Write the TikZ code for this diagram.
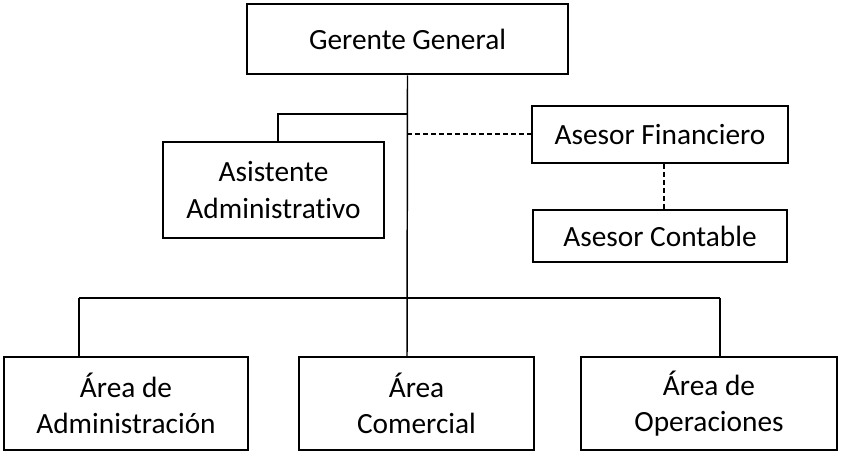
\documentclass[tikz,border=0pt]{standalone}
\usepackage{fontspec}
\setmainfont[Ligatures={NoCommon}]{Carlito}
\usepackage{tikz}

\tikzset{
  cargo/.style={draw, line width=2pt, align=center, inner sep=0pt,
    font=\fontsize{22}{27.5}\selectfont},
  enlace/.style={line width=1.1pt},
  asesoria/.style={line width=1.1pt, dash pattern=on 3.5pt off 2.5pt}
}

\begin{document}
\begin{tikzpicture}[x=0.75pt, y=-0.75pt]
        \useasboundingbox (0, 0) rectangle (841, 453);
        \node[cargo, minimum width=321*0.75pt, minimum height=70*0.75pt] (gerente) at (407.5, 39) {Gerente General};
        \node[cargo, minimum width=221*0.75pt, minimum height=96*0.75pt] (asistente) at (273.5, 190) {Asistente\\Administrativo};
        \node[cargo, minimum width=256*0.75pt, minimum height=57*0.75pt] (financiero) at (660, 134.5) {Asesor Financiero};
        \node[cargo, minimum width=254*0.75pt, minimum height=52*0.75pt] (contable) at (660, 236) {Asesor Contable};
        \node[cargo, minimum width=244*0.75pt, minimum height=93*0.75pt] (admin) at (126, 403.5) {Área de\\Administración};
        \node[cargo, minimum width=235*0.75pt, minimum height=93*0.75pt] (comercial) at (416.5, 403.5) {Área\\Comercial};
        \node[cargo, minimum width=256*0.75pt, minimum height=93*0.75pt] (operaciones) at (709, 403.5) {Área de\\Operaciones};
        \coordinate (tronco) at (407, 357);
        \coordinate (nudoA) at (407, 114);
        \coordinate (codo) at (278, 114);
        \coordinate (nudoF) at (407, 134);
        \coordinate (guion) at (664, 0);
        \coordinate (ramaA) at (79, 298);
        \coordinate (ramaO) at (720, 298);
        % linea principal
        \draw[enlace] (gerente.south) -- (tronco);
        \draw[enlace] (nudoA) -- (codo) -- (codo |- asistente.north);
        \draw[enlace] (ramaA) -- (ramaO);
        \draw[enlace] (ramaA) -- (ramaA |- admin.north);
        \draw[enlace] (ramaO) -- (ramaO |- operaciones.north);
        % asesoria
        \draw[asesoria] (nudoF) -- (nudoF -| financiero.west);
        \draw[asesoria] (guion |- financiero.south) -- (guion |- contable.north);
\end{tikzpicture}
\end{document}
